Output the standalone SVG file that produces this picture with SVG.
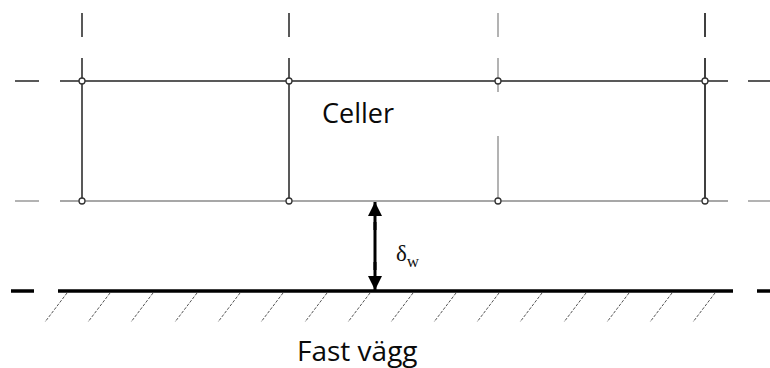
<svg xmlns="http://www.w3.org/2000/svg" width="770" height="368" viewBox="0 0 770 368">
  <style>
    .dark { stroke: #222; stroke-width: 1.5; fill: none; }
    .grey { stroke: #8a8a8a; stroke-width: 1.3; fill: none; }
    .wall { stroke: #000; stroke-width: 3.5; fill: none; }
    .hatch { stroke: #555; stroke-width: 1; stroke-dasharray: 3 1.5; fill: none; }
    .node { fill: #fff; stroke: #333; stroke-width: 1.3; }
    .label { font-family: "Open Sans", "Liberation Sans", sans-serif; fill: #0a0a0a; }
    .sym { font-family: "Liberation Serif", "DejaVu Serif", serif; fill: #111; }
  </style>
  <defs>
    <marker id="head" viewBox="0 0 14 22" markerWidth="14" markerHeight="22" refX="14" refY="11" orient="auto" markerUnits="userSpaceOnUse">
      <path d="M0,4 L22,11 L0,18 Z" transform="scale(0.64,1)" fill="#000"/>
    </marker>
  </defs>

  <!-- grid lines of the cell layer -->
  <g id="grid">
    <!-- top edge -->
    <line class="dark" x1="15" y1="81" x2="39" y2="81"/>
    <line class="dark" x1="60" y1="81" x2="728" y2="81"/>
    <line class="dark" x1="748" y1="81" x2="770" y2="81"/>
    <!-- bottom edge -->
    <line class="grey" x1="15" y1="201" x2="39" y2="201"/>
    <line class="grey" x1="60" y1="201" x2="728" y2="201"/>
    <line class="grey" x1="748" y1="201" x2="770" y2="201"/>
    <!-- vertical cell faces -->
    <line class="dark" x1="82" y1="13" x2="82" y2="37"/>
    <line class="dark" x1="82" y1="58" x2="82" y2="201"/>
    <line class="dark" x1="289" y1="13" x2="289" y2="37"/>
    <line class="dark" x1="289" y1="58" x2="289" y2="201"/>
    <line class="grey" x1="498" y1="13" x2="498" y2="37"/>
    <line class="grey" x1="498" y1="58" x2="498" y2="92"/>
    <line class="grey" x1="498" y1="136" x2="498" y2="201"/>
    <line class="dark" x1="705" y1="13" x2="705" y2="37" style="stroke:#000"/>
    <line class="dark" x1="705" y1="58" x2="705" y2="201" style="stroke:#000"/>
  </g>

  <!-- cell corner nodes -->
  <g id="nodes">
    <circle class="node" cx="82" cy="81" r="3"/>
    <circle class="node" cx="289" cy="81" r="3"/>
    <circle class="node" cx="498" cy="81" r="3"/>
    <circle class="node" cx="705" cy="81" r="3"/>
    <circle class="node" cx="82" cy="201" r="3"/>
    <circle class="node" cx="289" cy="201" r="3"/>
    <circle class="node" cx="498" cy="201" r="3"/>
    <circle class="node" cx="705" cy="201" r="3"/>
  </g>

  <g id="cells-label">
    <text class="label" x="322" y="123" font-size="27">Celler</text>
  </g>

  <!-- solid wall with hatching -->
  <g id="wall">
    <line class="wall" x1="11" y1="291" x2="34" y2="291"/>
    <line class="wall" x1="58" y1="291" x2="733" y2="291"/>
    <line class="wall" x1="757" y1="291" x2="770" y2="291"/>
    <path class="hatch" d="M67,293 l-22,29 M110,293 l-22,29 M153,293 l-22,29 M197,293 l-22,29 M240,293 l-22,29 M283,293 l-22,29 M327,293 l-22,29 M370,293 l-22,29 M413,293 l-22,29 M456,293 l-22,29 M499,293 l-22,29 M542,293 l-22,29 M586,293 l-22,29 M629,293 l-22,29 M672,293 l-22,29 M715,293 l-22,29"/>
    <text class="label" x="297" y="361" font-size="28">Fast vägg</text>
  </g>

  <!-- wall distance dimension -->
  <g id="connectors">
    <line x1="375" y1="222" x2="375" y2="270" stroke="#000" stroke-width="3"/>
    <line x1="375" y1="230" x2="375" y2="202" stroke="#000" stroke-width="3" marker-end="url(#head)"/>
    <line x1="375" y1="262" x2="375" y2="290" stroke="#000" stroke-width="3" marker-end="url(#head)"/>
  </g>
  <g id="delta-label">
    <text class="sym" x="396" y="261" font-size="23">δ<tspan font-size="17" dy="6">w</tspan></text>
  </g>
</svg>
